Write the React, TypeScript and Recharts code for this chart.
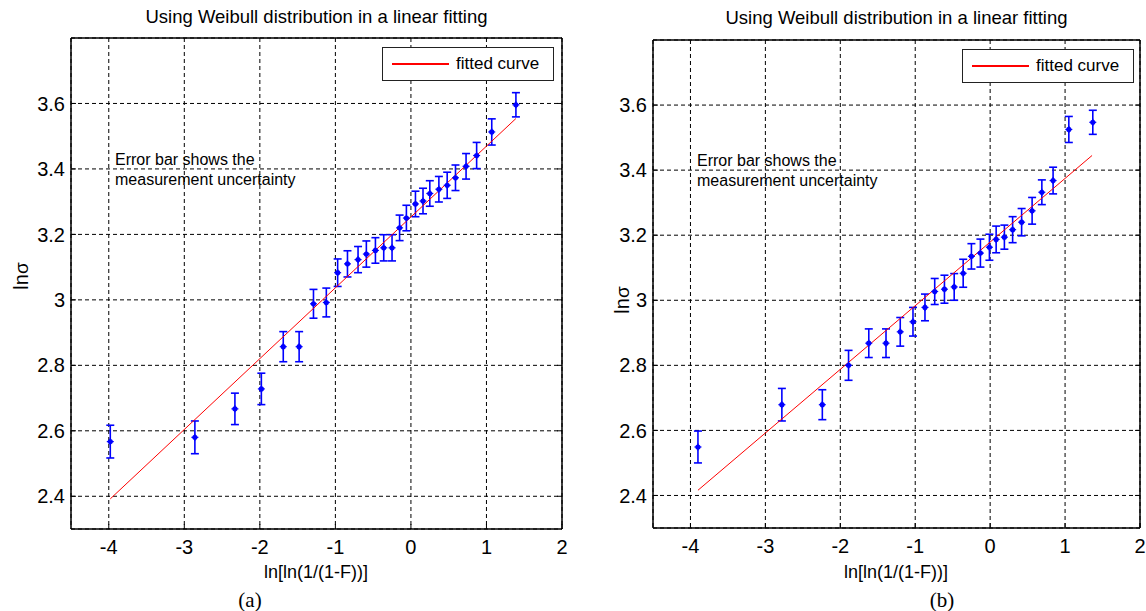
import React from "react";
import { ComposedChart, Scatter, ErrorBar, XAxis, YAxis, CartesianGrid } from "recharts";

// Valores: x = ln[ln(1/(1-F))], y = ln σ, err = meia barra de erro
const xTicks = [-4, -3, -2, -1, 0, 1, 2];
const yTicks = [2.4, 2.6, 2.8, 3, 3.2, 3.4, 3.6];

const xA = [-3.98, -2.86, -2.33, -1.98, -1.69, -1.48, -1.29, -1.12, -0.97, -0.84, -0.7, -0.59, -0.47, -0.36, -0.25, -0.15, -0.06, 0.06, 0.16, 0.25, 0.37, 0.48, 0.59, 0.73, 0.87, 1.07, 1.39];
const yA = [2.567, 2.58, 2.667, 2.728, 2.857, 2.857, 2.988, 2.992, 3.083, 3.11, 3.123, 3.14, 3.151, 3.159, 3.159, 3.22, 3.25, 3.293, 3.302, 3.325, 3.338, 3.35, 3.373, 3.408, 3.441, 3.513, 3.596];
const errA = [0.05, 0.05, 0.048, 0.048, 0.046, 0.046, 0.044, 0.044, 0.042, 0.04, 0.04, 0.04, 0.039, 0.04, 0.04, 0.039, 0.039, 0.039, 0.039, 0.039, 0.039, 0.04, 0.039, 0.039, 0.04, 0.04, 0.037];
const fitXA = [-3.98, 1.39];
const fitYA = [2.392, 3.554];

const xB = [-3.9, -2.78, -2.24, -1.89, -1.62, -1.39, -1.2, -1.03, -0.87, -0.74, -0.61, -0.48, -0.36, -0.25, -0.13, -0.01, 0.08, 0.19, 0.3, 0.42, 0.56, 0.69, 0.84, 1.05, 1.37];
const yB = [2.549, 2.679, 2.679, 2.8, 2.868, 2.868, 2.903, 2.934, 2.978, 3.027, 3.034, 3.041, 3.083, 3.135, 3.145, 3.163, 3.187, 3.194, 3.217, 3.24, 3.275, 3.332, 3.368, 3.525, 3.547];
const errB = [0.049, 0.05, 0.046, 0.046, 0.044, 0.044, 0.044, 0.044, 0.041, 0.04, 0.043, 0.041, 0.043, 0.039, 0.043, 0.04, 0.041, 0.037, 0.04, 0.042, 0.041, 0.038, 0.041, 0.04, 0.037];
const fitXB = [-3.9, 1.36];
const fitYB = [2.416, 3.445];

const FONTE = "Arial, 'Liberation Sans', Helvetica, sans-serif";
const TITULO = "Using Weibull distribution in a linear fitting";

const pontos = (xs: number[], ys: number[], es?: number[]) =>
  xs.map((x, i) => ({ x, y: ys[i], err: es ? es[i] : 0 }));

const marcador = (p: any) => (
  <g>
    <circle cx={p.cx} cy={p.cy} r={2.6} fill="#0000ff" />
    <line x1={p.cx - 3.5} x2={p.cx + 3.5} y1={p.cy} y2={p.cy} stroke="#0000ff" strokeWidth={1.2} />
    <line x1={p.cx} x2={p.cx} y1={p.cy - 3.5} y2={p.cy + 3.5} stroke="#0000ff" strokeWidth={1.2} />
  </g>
);
const nada = () => <g />;

type PainelProps = {
  left: number;
  width: number;
  margin: { top: number; right: number; bottom: number; left: number };
  dados: { x: number; y: number; err: number }[];
  ajuste: { x: number; y: number; err: number }[];
};

function Painel({ left, width, margin, dados, ajuste }: PainelProps) {
  const tick = { fill: "#000", fontSize: 20, fontFamily: FONTE };
  const linha = { stroke: "#000", strokeWidth: 1.5 };
  return (
    <div style={{ position: "absolute", left, top: 0 }}>
      <ComposedChart width={width} height={611} margin={margin}>
        <CartesianGrid stroke="#000" strokeDasharray="4 3" />
        <XAxis
          type="number"
          dataKey="x"
          domain={[-4.5, 2]}
          ticks={xTicks}
          interval={0}
          allowDataOverflow
          height={30}
          tick={tick}
          tickSize={-5}
          tickMargin={16}
          axisLine={linha}
          tickLine={{ stroke: "#000" }}
        />
        <XAxis
          xAxisId="top"
          orientation="top"
          mirror
          type="number"
          domain={[-4.5, 2]}
          ticks={xTicks}
          interval={0}
          allowDataOverflow
          tick={nada}
          tickSize={5}
          axisLine={linha}
          tickLine={{ stroke: "#000" }}
        />
        <YAxis
          type="number"
          dataKey="y"
          domain={[2.3, 3.8]}
          ticks={yTicks}
          interval={0}
          allowDataOverflow
          width={61}
          tick={tick}
          tickSize={-5}
          tickMargin={11}
          axisLine={linha}
          tickLine={{ stroke: "#000" }}
        />
        <YAxis
          yAxisId="right"
          orientation="right"
          mirror
          type="number"
          domain={[2.3, 3.8]}
          ticks={yTicks}
          interval={0}
          allowDataOverflow
          tick={nada}
          tickSize={5}
          axisLine={linha}
          tickLine={{ stroke: "#000" }}
        />
        <Scatter
          data={ajuste}
          line={{ stroke: "#ff0000", strokeWidth: 1 }}
          shape={nada}
          isAnimationActive={false}
        />
        <Scatter data={dados} shape={marcador} isAnimationActive={false}>
          <ErrorBar
            dataKey="err"
            direction="y"
            width={4}
            stroke="#0000ff"
            strokeWidth={1.6}
            isAnimationActive={false}
          />
        </Scatter>
      </ComposedChart>
    </div>
  );
}

const texto = (extra: React.CSSProperties): React.CSSProperties => ({
  position: "absolute",
  fontFamily: FONTE,
  color: "#000",
  whiteSpace: "nowrap",
  ...extra,
});

function Legenda({ left, top }: { left: number; top: number }) {
  return (
    <div
      style={texto({
        left,
        top,
        width: 170,
        height: 32,
        border: "1.5px solid #222",
        background: "#fff",
        fontSize: 17,
      })}
    >
      <div style={{ position: "absolute", left: 9, top: 15, width: 57, height: 1.5, background: "#ff0000" }} />
      <div style={{ position: "absolute", left: 73, top: 5, lineHeight: "22px" }}>fitted curve</div>
    </div>
  );
}

function Centro({ cx, cy, size, children, serif }: { cx: number; cy: number; size: number; children: React.ReactNode; serif?: boolean }) {
  return (
    <div
      style={texto({
        left: cx - 200,
        top: cy - 15,
        width: 400,
        height: 30,
        lineHeight: "30px",
        textAlign: "center",
        fontSize: size,
        fontFamily: serif ? "'Times New Roman', 'Liberation Serif', serif" : FONTE,
      })}
    >
      {children}
    </div>
  );
}

function RotuloY({ cx, cy }: { cx: number; cy: number }) {
  return (
    <div
      style={texto({
        left: cx - 40,
        top: cy - 13,
        width: 80,
        height: 26,
        lineHeight: "26px",
        textAlign: "center",
        fontSize: 20,
        transform: "rotate(-90deg)",
      })}
    >
      ln<span style={{ fontSize: 19 }}>σ</span>
    </div>
  );
}

function Nota({ left, top }: { left: number; top: number }) {
  return (
    <div style={texto({ left, top, fontSize: 16, lineHeight: "20px" })}>
      Error bar shows the
      <br />
      measurement uncertainty
    </div>
  );
}

export default function App() {
  const dadosA = pontos(xA, yA, errA);
  const ajusteA = pontos(fitXA, fitYA);
  const dadosB = pontos(xB, yB, errB);
  const ajusteB = pontos(fitXB, fitYB);
  return (
    <div style={{ position: "absolute", left: 0, top: 0, width: 1146, height: 611, background: "#fff", overflow: "hidden" }}>
      <Painel left={0} width={583} margin={{ top: 38, right: 21, bottom: 52, left: 10 }} dados={dadosA} ajuste={ajusteA} />
      <Painel left={583} width={563} margin={{ top: 40, right: 6, bottom: 53, left: 9 }} dados={dadosB} ajuste={ajusteB} />

      <Centro cx={316.5} cy={17} size={18.5}>{TITULO}</Centro>
      <Centro cx={896.5} cy={18} size={18.5}>{TITULO}</Centro>

      <Legenda left={382} top={47} />
      <Legenda left={962} top={49} />

      <Nota left={115} top={150} />
      <Nota left={697} top={151} />

      <RotuloY cx={21} cy={276} />
      <RotuloY cx={622} cy={300} />

      <Centro cx={316} cy={572} size={18}>ln[ln(1/(1-F))]</Centro>
      <Centro cx={896} cy={572} size={18}>ln[ln(1/(1-F))]</Centro>

      <Centro cx={250} cy={600} size={21} serif>(a)</Centro>
      <Centro cx={942} cy={600} size={21} serif>(b)</Centro>
    </div>
  );
}
